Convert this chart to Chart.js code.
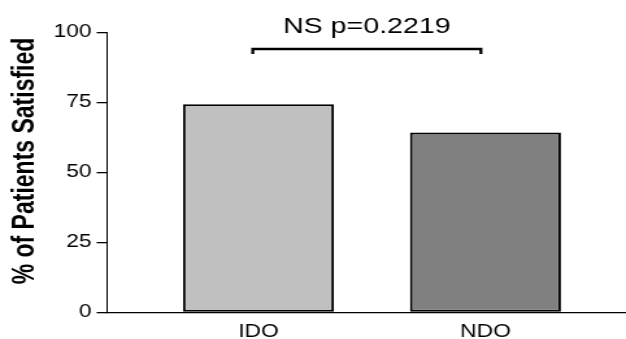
<!DOCTYPE html>
<html>
<head>
<meta charset="utf-8">
<script src="https://cdn.jsdelivr.net/npm/chart.js@4"></script>
<style>
  html, body { margin: 0; padding: 0; background: #fff; overflow: hidden; }
  #wrap { width: 626px; height: 339px; }
  /* original figure is horizontally stretched, so draw narrow and scale */
  #satChart { display: block; transform: scaleX(1.29876); transform-origin: 0 0; }
</style>
</head>
<body>
<div id="wrap"><canvas id="satChart" width="482" height="339"></canvas></div>
<script>
const categories = ['IDO', 'NDO'];
const positions = [1, 2];
const satisfied = [74.4, 64.3];
const barColors = ['#c0c0c0', '#808080'];
const yTicks = [0, 25, 50, 75, 100];
const yTitle = '% of Patients Satisfied';
const pLabel = 'NS p=0.2219';
const bracket = { from: 0.975, to: 1.98, y: 94.1, drop: 92.3 };

const FONT = "'Liberation Sans', Arial, sans-serif";

// significance bracket and y title
const annotations = {
    id: 'annotations',
    afterDraw(chart) {
        const ctx = chart.ctx;
        const x = chart.scales.x, y = chart.scales.y;
        const x1 = x.getPixelForValue(bracket.from);
        const x2 = x.getPixelForValue(bracket.to);
        const yl = y.getPixelForValue(bracket.y);
        const yd = y.getPixelForValue(bracket.drop);
        ctx.save();
        ctx.strokeStyle = '#000';
        ctx.lineWidth = 2.3;
        ctx.beginPath();
        ctx.moveTo(x1, yd);
        ctx.lineTo(x1, yl);
        ctx.lineTo(x2, yl);
        ctx.lineTo(x2, yd);
        ctx.stroke();

        ctx.fillStyle = '#000';
        ctx.font = '22px ' + FONT;
        ctx.textAlign = 'center';
        ctx.textBaseline = 'alphabetic';
        ctx.fillText(pLabel, (x1 + x2) / 2, y.getPixelForValue(100) + 0.5);

        ctx.translate(20, 161);
        ctx.rotate(-Math.PI / 2);
        ctx.font = 'bold 23px ' + FONT;
        ctx.textBaseline = 'middle';
        ctx.fillText(yTitle, 0, 0);
        ctx.restore();
    }
};

new Chart(document.getElementById('satChart').getContext('2d'), {
    type: 'bar',
    data: {
        datasets: [{
            data: positions.map((p, i) => ({ x: p, y: satisfied[i] })),
            backgroundColor: barColors,
            borderColor: '#000',
            borderWidth: 2,
            borderSkipped: false,
            categoryPercentage: 1,
            barPercentage: 0.665
        }]
    },
    options: {
        responsive: false,
        animation: false,
        layout: { padding: { top: 32.5, left: 0, right: 0, bottom: 0 } },
        plugins: {
            legend: { display: false },
            tooltip: { enabled: false }
        },
        scales: {
            x: {
                type: 'linear',
                min: 0.333,
                max: 2.619,
                offset: false,
                afterBuildTicks: s => { s.ticks = positions.map(v => ({ value: v })); },
                afterFit: s => { s.height = 26.5; },
                grid: { display: false, drawTicks: false, tickLength: 0, offset: false },
                border: { display: true, color: '#000', width: 1.3 },
                ticks: {
                    autoSkip: false,
                    maxRotation: 0,
                    padding: 9,
                    color: '#000',
                    font: { family: FONT, size: 17.5 },
                    callback: v => categories[positions.indexOf(v)] || ''
                }
            },
            y: {
                min: 0,
                max: 100,
                afterBuildTicks: s => { s.ticks = yTicks.map(v => ({ value: v })); },
                afterFit: s => { s.width = 82.4; },
                grid: { drawOnChartArea: false, drawTicks: true, tickLength: 8, color: '#000', lineWidth: 1.3 },
                border: { display: true, color: '#000', width: 1 },
                ticks: {
                    padding: 4,
                    color: '#000',
                    font: { family: FONT, size: 17.5 }
                }
            }
        }
    },
    plugins: [annotations]
});
</script>
</body>
</html>
